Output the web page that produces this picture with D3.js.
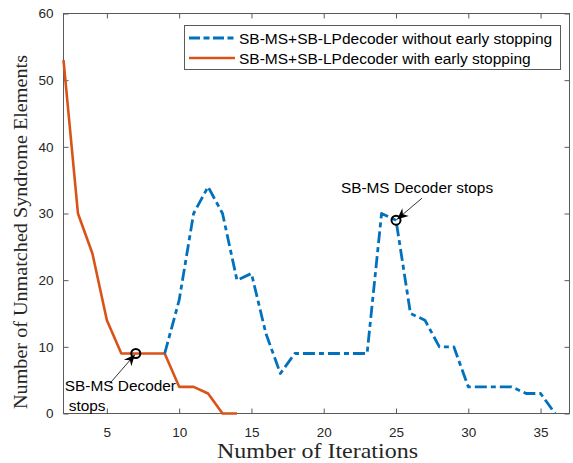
<!DOCTYPE html>
<html>
<head>
<meta charset="utf-8">
<script src="https://cdn.jsdelivr.net/npm/d3@7"></script>
<style>
  html, body { margin: 0; padding: 0; background: #fff; }
  svg { display: block; }
</style>
</head>
<body>
<svg id="chart" width="573" height="463"></svg>
<script>
// ---------- data ----------
const xTicks = [5, 10, 15, 20, 25, 30, 35];
const yTicks = [0, 10, 20, 30, 40, 50, 60];

const iterWithout = [9,10,11,12,13,14,15,16,17,18,19,20,21,22,23,24,25,26,27,28,29,30,31,32,33,34,35,36];
const valWithout  = [9,17,30,34,30,20,21,12,6,9,9,9,9,9,9,30,29,15,14,10,10,4,4,4,4,3,3,0];

const iterWith = [2,3,4,5,6,7,8,9,10,11,12,13,14];
const valWith  = [53,30,24,14,9,9,9,9,4,4,3,0,0];

const seriesNames = [
  "SB-MS+SB-LPdecoder without early stopping",
  "SB-MS+SB-LPdecoder with early stopping"
];

const stopIter = [7, 25];
const stopVal  = [9, 29];
const stopLabels = [["SB-MS Decoder", "stops"], ["SB-MS Decoder stops"]];

const xLabel = "Number of Iterations";
const yLabel = "Number of Unmatched Syndrome Elements";

// ---------- layout ----------
const L = 63.5, R = 569.5, T = 13.5, B = 413.5;
const blue = "#0072BD", orange = "#D95319";
const axisCol = "#5a5a5a", textCol = "#262626";
const sans = "Liberation Sans, Arial, sans-serif";

const svg = d3.select("#chart");
const x = d3.scaleLinear().domain([2, 37]).range([L, R]);
const y = d3.scaleLinear().domain([0, 60]).range([B, T]);

// axes box
svg.append("rect").attr("x", L).attr("y", T).attr("width", R - L).attr("height", B - T)
  .attr("fill", "#fff").attr("stroke", axisCol).attr("stroke-width", 1);

const tickLen = 5;
const gx = svg.append("g").attr("transform", `translate(0,${B})`)
  .call(d3.axisBottom(x).tickValues(xTicks).tickSizeInner(-tickLen).tickSizeOuter(0).tickPadding(14));
const gxTop = svg.append("g").attr("transform", `translate(0,${T})`)
  .call(d3.axisTop(x).tickValues(xTicks).tickSizeInner(-tickLen).tickSizeOuter(0).tickFormat(""));
const gy = svg.append("g").attr("transform", `translate(${L},0)`)
  .call(d3.axisLeft(y).tickValues(yTicks).tickSizeInner(-tickLen).tickSizeOuter(0).tickPadding(10));
const gyR = svg.append("g").attr("transform", `translate(${R},0)`)
  .call(d3.axisRight(y).tickValues(yTicks).tickSizeInner(-tickLen).tickSizeOuter(0).tickFormat(""));

[gx, gxTop, gy, gyR].forEach(g => {
  g.select(".domain").remove();
  g.selectAll(".tick line").attr("stroke", axisCol).attr("stroke-width", 1);
  g.selectAll(".tick text").attr("fill", textCol)
    .attr("font-family", sans).attr("font-size", 13.5);
});

// lines
const line = d3.line().x(d => x(d[0])).y(d => y(d[1]));
const dWithout = iterWithout.map((it, i) => [it, valWithout[i]]);
const dWith = iterWith.map((it, i) => [it, valWith[i]]);

svg.append("path").datum(dWith).attr("d", line)
  .attr("fill", "none").attr("stroke", orange).attr("stroke-width", 2.6)
  .attr("stroke-linejoin", "round");
svg.append("path").datum(dWithout).attr("d", line)
  .attr("fill", "none").attr("stroke", blue).attr("stroke-width", 2.8)
  .attr("stroke-dasharray", "12,4,5,4").attr("stroke-linejoin", "round");

// stop markers
stopIter.forEach((it, i) => {
  svg.append("circle").attr("cx", x(it)).attr("cy", y(stopVal[i])).attr("r", 4.5)
    .attr("fill", "none").attr("stroke", "#000").attr("stroke-width", 2);
});

// annotations (text + arrow), offsets in pixels relative to the marker
const annText = [
  { dx: -71, dy: 37, anchor: "start", lines: stopLabels[0], lineOff: [0, 4], lh: 20.5, tail: [-26, 30] },
  { dx: 21, dy: -27, anchor: "middle", lines: stopLabels[1], lineOff: [0], lh: 0, tail: [26, -22] }
];
stopIter.forEach((it, i) => {
  const cx = x(it), cy = y(stopVal[i]);
  const a = annText[i];
  a.lines.forEach((t, k) => {
    svg.append("text").attr("x", cx + a.dx + a.lineOff[k]).attr("y", cy + a.dy + k * a.lh)
      .attr("text-anchor", a.anchor).attr("fill", "#000")
      .attr("font-family", sans).attr("font-size", 15.4)
      .text(t);
  });
  const tx = cx + a.tail[0], ty = cy + a.tail[1];
  const ang = Math.atan2(cy - ty, cx - tx);
  const tipX = cx - Math.cos(ang) * 1.5, tipY = cy - Math.sin(ang) * 1.5;
  svg.append("line").attr("x1", tx).attr("y1", ty).attr("x2", tipX).attr("y2", tipY)
    .attr("stroke", "#000").attr("stroke-width", 0.8);
  const Lh = 11, W = 5, N = 3.5;
  const pts = [[0, 0], [-Lh, W], [-Lh + N, 0], [-Lh, -W]].map(([px, py]) => [
    tipX + px * Math.cos(ang) - py * Math.sin(ang),
    tipY + px * Math.sin(ang) + py * Math.cos(ang)
  ]);
  svg.append("polygon").attr("points", pts.map(p => p.join(",")).join(" ")).attr("fill", "#000");
});

// legend
const lg = svg.append("g");
lg.append("rect").attr("x", 184.5).attr("y", 25.5).attr("width", 376).attr("height", 44)
  .attr("fill", "#fff").attr("stroke", axisCol).attr("stroke-width", 1);
const legStyles = [
  { color: blue, dash: "11,3.5,6,3.5", w: 2.8 },
  { color: orange, dash: null, w: 2.6 }
];
seriesNames.forEach((name, i) => {
  const yy = 38 + i * 20;
  const ln = lg.append("line").attr("x1", 189).attr("x2", 235).attr("y1", yy).attr("y2", yy)
    .attr("stroke", legStyles[i].color).attr("stroke-width", legStyles[i].w);
  if (legStyles[i].dash) ln.attr("stroke-dasharray", legStyles[i].dash);
  lg.append("text").attr("x", 239).attr("y", yy + 5.5)
    .attr("font-family", sans).attr("font-size", 15.5)
    .attr("fill", "#000").text(name);
});

// axis labels
const xl = svg.append("text").attr("x", 317.5).attr("y", 458).attr("text-anchor", "middle")
  .attr("font-family", "Liberation Serif, Times New Roman, serif").attr("font-size", 21)
  .attr("fill", textCol).text(xLabel);
xl.attr("textLength", 201).attr("lengthAdjust", "spacingAndGlyphs");
const yl = svg.append("text").attr("transform", "translate(27,232) rotate(-90)")
  .attr("text-anchor", "middle")
  .attr("font-family", "Liberation Serif, Times New Roman, serif").attr("font-size", 18)
  .attr("fill", textCol).text(yLabel);
yl.attr("textLength", 354).attr("lengthAdjust", "spacingAndGlyphs");
</script>
</body>
</html>
